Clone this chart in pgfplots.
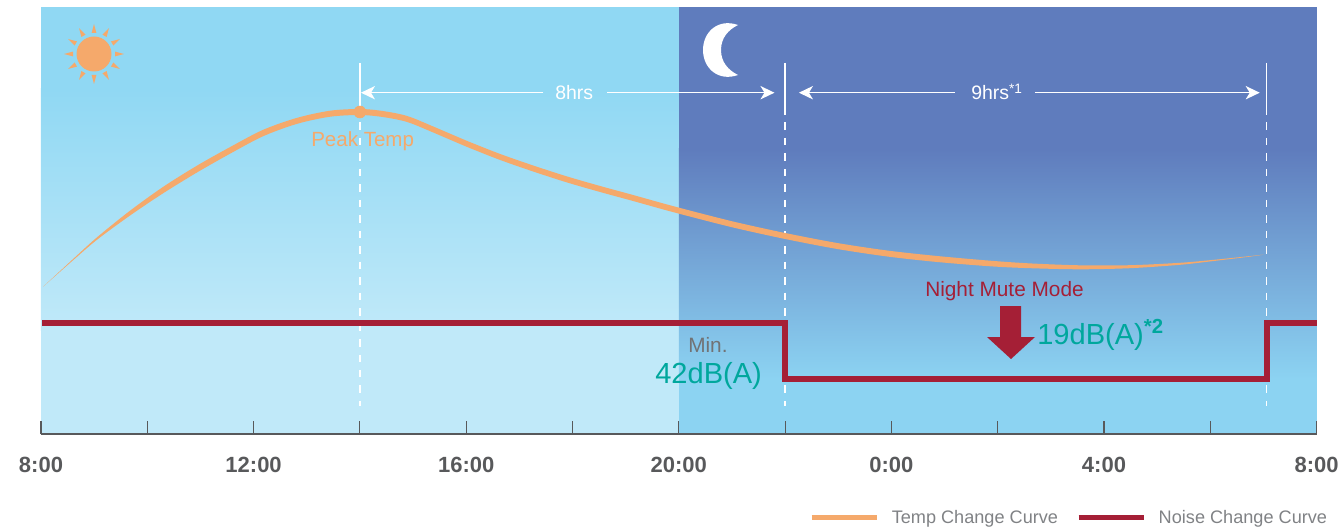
\documentclass[border=0pt]{standalone}
\usepackage{fontspec}
\setmainfont{Liberation Sans}
\usepackage{pgfplots}
\pgfplotsset{compat=1.18}
\usetikzlibrary{arrows.meta}

\definecolor{daytop}{HTML}{90D8F3}
\definecolor{daybot}{HTML}{C0E9F9}
\definecolor{nighttop}{HTML}{5F7CBD}
\definecolor{nightbot}{HTML}{8CD3F2}
\definecolor{tempcol}{HTML}{F5A96B}
\definecolor{noisecol}{HTML}{A51F36}
\definecolor{tealcol}{HTML}{00A79D}
\definecolor{axiscol}{HTML}{58595B}
\definecolor{legcol}{HTML}{808285}

% 1 px of the reference = 0.75pt
\newcommand{\fs}[1]{\fontsize{#1}{#1}\selectfont}
\tikzset{hrs/.style={white,line width=1.1pt,-{Stealth[length=10.5pt,width=10pt,inset=3pt]}},
  solidv/.style={white,line width=1.1pt},
  dashv/.style={white,line width=1.1pt,dash pattern=on 5.6pt off 6pt}}

\begin{document}
\begin{tikzpicture}
\path[use as bounding box] (0,0) rectangle (1005.75pt,396.75pt);
\begin{axis}[
    at={(30.75pt,71.25pt)}, anchor=south west,
    x=39.8625pt, y=0.75pt,
    xmin=0, xmax=24, ymin=95, ymax=522,
    clip=false,
    axis on top,
    axis x line=bottom, axis y line=none,
    axis line style={-,color=axiscol,line width=0.8pt},
    xtick={0,2,...,24},
    xticklabels={8:00,,12:00,,16:00,,20:00,,0:00,,4:00,,8:00},
    tick align=inside,
    major tick length=10pt,
    tick style={color=axiscol,line width=0.8pt},
    xticklabel style={font=\fs{16.5}\bfseries,text=axiscol,yshift=-13.5pt},
    legend columns=2,
    legend style={at={(1.0105,-0.196)},anchor=east,draw=none,fill=none,inner sep=0pt,
        font=\fs{13.6},text=legcol,
        /tikz/every odd column/.append style={column sep=7.5pt},
        /tikz/every even column/.append style={column sep=11.5pt}},
    legend cell align=left,
]
% background panels
\addplot[draw=none,fill=daytop,forget plot] coordinates {(0,522) (12,522) (12,440) (0,440)} --cycle;
\addplot[draw=none,top color=daytop,bottom color=daybot,forget plot] coordinates {(0,440) (12,440) (12,199) (0,199)} --cycle;
\addplot[draw=none,fill=daybot,forget plot] coordinates {(0,200) (12,200) (12,96) (0,96)} --cycle;
\addplot[draw=none,fill=nighttop,forget plot] coordinates {(12,522) (24,522) (24,380) (12,380)} --cycle;
\addplot[draw=none,top color=nighttop,bottom color=nightbot,forget plot] coordinates {(12,380) (24,380) (24,150) (12,150)} --cycle;
\addplot[draw=none,fill=nightbot,forget plot] coordinates {(12,151) (24,151) (24,96) (12,96)} --cycle;

% span arrows and guide lines
\draw[solidv,line width=1.5pt] (axis cs:6,466) -- (axis cs:6,417);
\draw[dashv,line width=1.5pt] (axis cs:6,406.5) -- (axis cs:6,123);
\draw[solidv] (axis cs:14,466) -- (axis cs:14,414);
\draw[dashv] (axis cs:14,406.5) -- (axis cs:14,123);
\draw[solidv] (axis cs:23.06,466) -- (axis cs:23.06,414);
\draw[dashv] (axis cs:23.06,406.5) -- (axis cs:23.06,123);
\draw[hrs] (axis cs:9.45,436.3) -- (axis cs:6.02,436.3);
\draw[hrs] (axis cs:10.65,436.3) -- (axis cs:13.8,436.3);
\draw[hrs] (axis cs:17.2,436.3) -- (axis cs:14.26,436.3);
\draw[hrs] (axis cs:18.7,436.3) -- (axis cs:22.93,436.3);

% temperature curve, a closed ribbon because it tapers at both ends
\addplot[draw=none,fill=tempcol,smooth,forget plot] coordinates {
 (0.04,242.3) (0.60,269.8) (1.05,291.5) (1.67,318.1) (2.30,342.2) (2.94,363.5) (3.56,382)
 (4.18,399.2) (4.82,411.2) (5.44,418.3) (6.00,420) (6.43,418) (6.89,413) (7.38,402.5) (8.02,388)
 (8.64,375) (9.26,363.5) (9.90,352.5) (10.52,343) (11.14,334) (11.78,324.5) (12.46,315) (13.10,306.5)
 (14.00,296) (14.98,286) (15.92,278.5) (16.86,273) (17.86,268.3) (18.61,265.6) (19.55,263.7)
 (20.49,263.8) (21.43,266.2) (22.05,269.1) (22.69,272.6) (23.00,274.3)
 (22.69,272) (22.05,267.9) (21.43,264.2) (20.49,260.8) (19.55,259.7) (18.61,260.8)
 (17.86,262.7) (16.86,267) (15.92,272.5) (14.98,280) (14.00,290) (13.10,300.5) (12.46,309)
 (11.78,318.5) (11.14,328) (10.52,337) (9.90,346.5) (9.26,357.5) (8.64,369) (8.02,382) (7.38,396.5)
 (6.89,407) (6.43,412) (6.00,414) (5.44,412.3) (4.82,405.2) (4.18,392.8) (3.56,375.4) (2.94,356.7)
 (2.30,335.8) (1.67,313.3) (1.05,289.1) (0.60,268.6) (0.04,242.3)} --cycle;
\addplot[only marks,mark=*,mark size=4.5pt,color=tempcol,forget plot] coordinates {(6,417)};

% noise curve
\addplot[noisecol,line width=4.5pt,line join=miter,forget plot] coordinates {(0.02,206.3) (14,206.3) (14,150.3) (23.06,150.3) (23.06,206.3) (24,206.3)};

% white rule on the axis
\addplot[white,line width=0.75pt,forget plot] coordinates {(0,96) (24,96)};

\addlegendimage{legend image code/.code={\draw[tempcol,line width=3.75pt] (0,0) -- (48.75pt,0);}}
\addlegendentry{Temp Change Curve}
\addlegendimage{legend image code/.code={\draw[noisecol,line width=3.75pt] (0,0) -- (48.75pt,0);}}
\addlegendentry{Noise Change Curve}
\end{axis}

% icons and labels, in pixels of the reference measured from the top left
\begin{scope}[x=0.75pt,y=-0.75pt,shift={(0pt,396.75pt)}]
  \fill[tempcol] (94,54) circle (17.5);
  \foreach \a in {0,30,...,330} {
    \fill[tempcol,rotate around={\a:(94,54)}] (124,54) -- (115,51.6) -- (115,56.4) -- cycle;
  }
  \fill[white] (738,25) .. controls (718,18) and (703,32) .. (703,50)
     .. controls (703,68) and (718,82) .. (738,75)
     .. controls (728,70) and (721,62) .. (721,50)
     .. controls (721,38) and (728,30) .. (738,25) -- cycle;
  \fill[noisecol] (1000,306) -- (1021,306) -- (1021,337) -- (1035,337) -- (1011,359) -- (987,337) -- (1000,337) -- cycle;
  \tikzset{every node/.style={inner sep=0pt,anchor=base west}}
  \node[text=tempcol,font=\fs{15.4}] at (311,147) {Peak Temp};
  \node[text=white,font=\fs{14.6}] at (555,100) {8hrs};
  \node[text=white,font=\fs{14.6}] at (971,100) {9hrs\textsuperscript{*1}};
  \node[text=noisecol,font=\fs{15.6}] at (925,296) {Night Mute Mode};
  \node[text=axiscol!85,font=\fs{15.6}] at (688,352) {Min.};
  \node[text=tealcol,font=\fs{21.8}] at (655,383) {42dB(A)};
  \node[text=tealcol,font=\fs{21.8}] at (1037,344) {19dB(A)\textsuperscript{\bfseries *2}};
\end{scope}
\end{tikzpicture}
\end{document}
